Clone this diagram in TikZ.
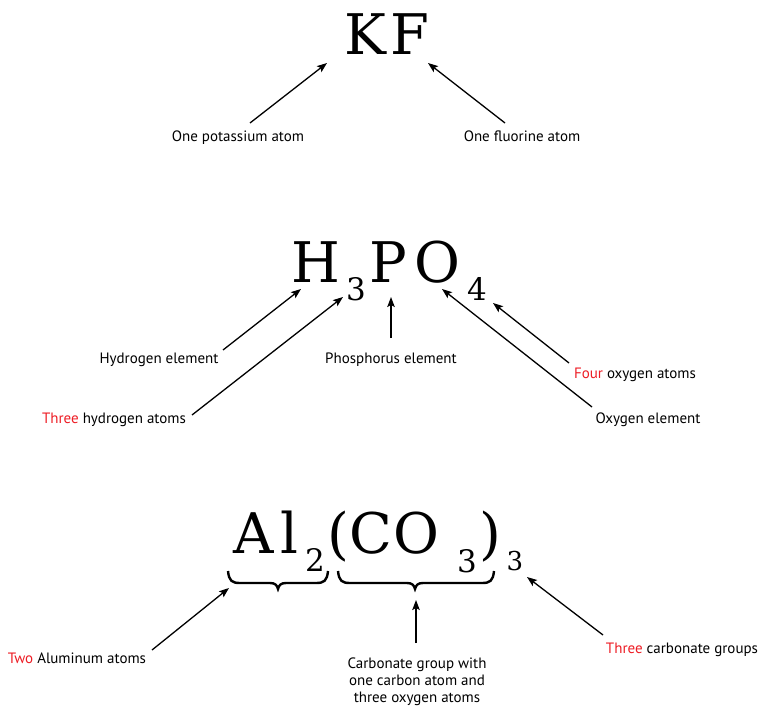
\documentclass[tikz,border=0pt]{standalone}
\usepackage{fontspec}
\setmainfont{PT Sans}
\newfontfamily\formfont{DejaVu Serif}
\usetikzlibrary{arrows.meta}
\definecolor{redtxt}{HTML}{ED1C24}
\begin{document}
\begin{tikzpicture}[x=1pt,y=-1pt,
  lbl/.style={anchor=base,inner sep=0pt,font=\fontsize{15}{17}\selectfont},
  big/.style={anchor=base,inner sep=0pt,font=\formfont\fontsize{56}{56}\selectfont},
  sub/.style={anchor=base,inner sep=0pt,font=\formfont\fontsize{31}{31}\selectfont},
  subs/.style={anchor=base,inner sep=0pt,font=\formfont\fontsize{26}{26}\selectfont},
  arr/.style={-{Stealth[length=10pt,width=7.5pt,inset=2pt]},line width=1.3pt},
  brc/.style={line width=2.4pt}]
\useasboundingbox (0,0) rectangle (759,711);
% ---- KF
\node[big] (K) at (365,55) {K};
\node[big] (F) at (410,55) {F};
\node[lbl] (lK) at (238,142) {One potassium atom};
\node[lbl] (lF) at (522,142) {One fluorine atom};
\coordinate (aK0) at (250,123); \coordinate (aK1) at (327,63);
\coordinate (aF0) at (505,123); \coordinate (aF1) at (428,63);
\draw[arr] (aK0) -- (aK1);
\draw[arr] (aF0) -- (aF1);
% ---- H3PO4
\node[big] (H) at (316,282) {H};
\node[sub] (s3) at (356,300) {3};
\node[big] (P) at (388,282) {P};
\node[big] (O) at (437,282) {O};
\node[sub] (s4) at (477,300) {4};
\node[lbl] (lH) at (159,363) {Hydrogen element};
\node[lbl] (lHn) at (114,423) {\textcolor{redtxt}{Three} hydrogen atoms};
\node[lbl] (lP) at (391,363) {Phosphorus element};
\node[lbl] (lOn) at (635,378) {\textcolor{redtxt}{Four} oxygen atoms};
\node[lbl] (lO) at (648,423) {Oxygen element};
\coordinate (aH0) at (223,350); \coordinate (aH1) at (301,289);
\coordinate (aHn0) at (192,415); \coordinate (aHn1) at (343,297);
\coordinate (aP0) at (391,338); \coordinate (aP1) at (391,297);
\coordinate (aOn0) at (569,363); \coordinate (aOn1) at (493,303);
\coordinate (aO0) at (592,407); \coordinate (aO1) at (442,289);
\draw[arr] (aH0) -- (aH1);
\draw[arr] (aHn0) -- (aHn1);
\draw[arr] (aP0) -- (aP1);
\draw[arr] (aOn0) -- (aOn1);
\draw[arr] (aO0) -- (aO1);
% ---- Al2(CO3)3
\node[big] (A) at (254,553) {A};
\node[big] (l) at (289,553) {l};
\node[sub] (s2) at (315,571) {2};
\node[big] (pl) at (338,553) {(};
\node[big] (C) at (371,553) {C};
\node[big] (O2) at (416,553) {O};
\node[sub] (s3b) at (467,572) {3};
\node[big] (pr) at (490,553) {)};
\node[subs] (s3c) at (515,570) {3};
% braces
\draw[brc] (228,571) .. controls (229,581) and (232,583) .. (240,583)
  -- (270,583) .. controls (275,583) and (277,585) .. (278,589)
  .. controls (279,585) and (281,583) .. (286,583)
  -- (316,583) .. controls (324,583) and (327,581) .. (328,571);
\draw[brc] (338,571) .. controls (339,581) and (342,583) .. (350,583)
  -- (407,583) .. controls (412,583) and (414,585) .. (415,589)
  .. controls (416,585) and (418,583) .. (423,583)
  -- (482,583) .. controls (490,583) and (493,581) .. (494,571);
\node[lbl] (lA) at (77,663) {\textcolor{redtxt}{Two} Aluminum atoms};
\node[lbl,align=center,anchor=north] (lC) at (417,658) {Carbonate group with\\one carbon atom and\\three oxygen atoms};
\node[lbl] (lG) at (682,653) {\textcolor{redtxt}{Three} carbonate groups};
\coordinate (aA0) at (152,650); \coordinate (aA1) at (229,588);
\coordinate (aC0) at (416,643); \coordinate (aC1) at (416,600);
\coordinate (aG0) at (603,635); \coordinate (aG1) at (527,577);
\draw[arr] (aA0) -- (aA1);
\draw[arr] (aC0) -- (aC1);
\draw[arr] (aG0) -- (aG1);
\end{tikzpicture}
\end{document}
